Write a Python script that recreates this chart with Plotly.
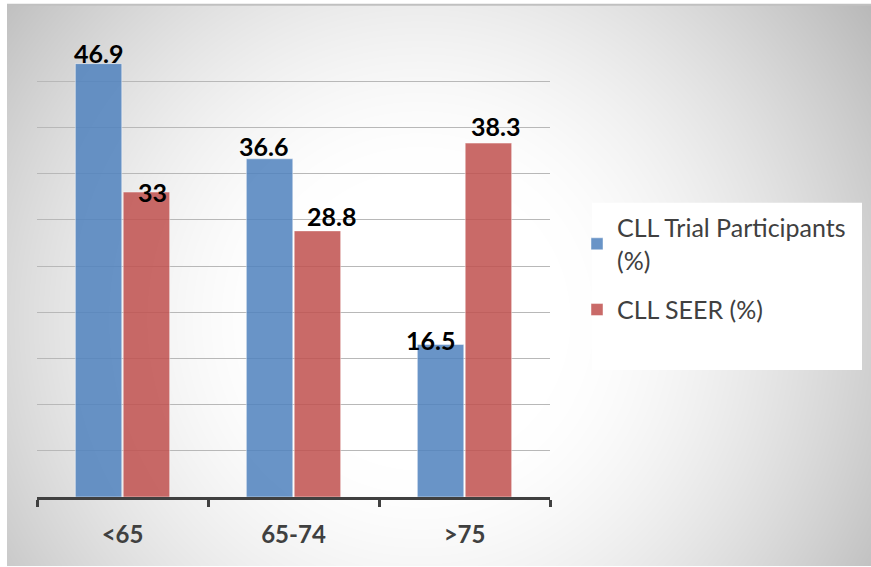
import base64
import struct
import zlib

import numpy as np
import plotly.graph_objects as go

# ---- data ----
categories = ["<65", "65-74", ">75"]
trial_pct = [46.9, 36.6, 16.5]
seer_pct = [33, 28.8, 38.3]
series_names = ["CLL Trial Participants<br>(%)", "CLL SEER (%)"]

# ---- style: data-label nudges (px) as placed in the original chart ----
label_dx = {"trial": [0, -6, -10], "seer": [6, 14, 7]}
label_dy = {"trial": [1, 3, -5], "seer": [-10, 5, 7]}

# ---- geometry (pixels, page coords; body margin removed) ----
W, H = 871, 567
PL, PR, PT, PB = 37, 550, 35.3, 497
BARGAP, BARGROUPGAP = 0.44, 0.03


def px2x(px):
    return (px - PL) / (PR - PL)


def py2y(py):
    return (PB - py) / (PB - PT)


# ---- radial gradient background as PNG ----
def gradient_png(w, h, cx, cy):
    yy, xx = np.mgrid[0:h, 0:w]
    d = np.sqrt((xx - cx) ** 2 + (yy - cy) ** 2)
    t = np.clip((d - 150) / 360.0, 0, 1.2)
    v = np.clip(255 - 60 * t ** 1.5, 0, 255).astype(np.uint8)
    raw = b"".join(b"\x00" + v[r].tobytes() for r in range(h))

    def chunk(tag, data):
        c = struct.pack(">I", len(data)) + tag + data
        return c + struct.pack(">I", zlib.crc32(tag + data) & 0xFFFFFFFF)

    png = b"\x89PNG\r\n\x1a\n"
    png += chunk(b"IHDR", struct.pack(">IIBBBBB", w, h, 8, 0, 0, 0, 0))
    png += chunk(b"IDAT", zlib.compress(raw, 9))
    png += chunk(b"IEND", b"")
    return "data:image/png;base64," + base64.b64encode(png).decode()


BG_X0, BG_X1, BG_Y0, BG_Y1 = 7, 871, 5, 566
bg_src = gradient_png(BG_X1 - BG_X0, BG_Y1 - BG_Y0, 420 - BG_X0, 320 - BG_Y0)

FONT = "Lato, 'Open Sans', sans-serif"

fig = go.Figure()
fig.add_trace(go.Bar(
    x=categories, y=trial_pct, name=series_names[0],
    marker=dict(color="rgba(79,129,189,0.85)",
                line=dict(color="rgba(255,255,255,0.45)", width=1)),
    legendgroup="a",
))
fig.add_trace(go.Bar(
    x=categories, y=seer_pct, name=series_names[1],
    marker=dict(color="rgba(192,80,77,0.85)",
                line=dict(color="rgba(255,255,255,0.45)", width=1)),
    legendgroup="b",
))

# data labels anchored to the bars through the axes
cat_px = (PR - PL) / len(categories)
half_slot = cat_px * (1 - BARGAP) / 4
annotations = []
for key, vals, sign in (("trial", trial_pct, -1), ("seer", seer_pct, 1)):
    for i, cat in enumerate(categories):
        annotations.append(dict(
            x=cat, y=vals[i], xref="x", yref="y", text=str(vals[i]),
            showarrow=False, yanchor="bottom", xanchor="center",
            xshift=sign * half_slot + label_dx[key][i],
            yshift=label_dy[key][i] - 7,
            font=dict(family=FONT, size=25, color="black", weight="bold"),
        ))

fig.update_layout(
    width=W, height=H,
    margin=dict(l=PL, r=W - PR, t=PT, b=H - PB, pad=0),
    paper_bgcolor="white",
    plot_bgcolor="rgba(0,0,0,0)",
    barmode="group", bargap=BARGAP, bargroupgap=BARGROUPGAP,
    font=dict(family=FONT, color="#404040"),
    showlegend=True,
    legend=dict(
        x=px2x(577), y=py2y(205), xanchor="left", yanchor="top",
        bgcolor="rgba(0,0,0,0)", font=dict(family=FONT, size=25, color="#404040"),
        tracegroupgap=14, itemclick=False,
    ),
    xaxis=dict(
        type="category", tickson="boundaries", ticks="outside", ticklen=7,
        tickwidth=3, tickcolor="#404040", showline=True, linewidth=3,
        linecolor="#404040", showgrid=False,
        tickfont=dict(family=FONT, size=24, color="#404040", weight="bold"),
        ticklabelstandoff=14,
    ),
    yaxis=dict(
        range=[0, 50], dtick=5, showgrid=True, gridcolor="#b8b8b8",
        gridwidth=1.2, showticklabels=False, zeroline=False, showline=False,
        ticks="",
    ),
    annotations=annotations,
    images=[dict(
        source=bg_src, xref="paper", yref="paper",
        x=px2x(BG_X0), y=py2y(BG_Y0),
        sizex=px2x(BG_X1) - px2x(BG_X0), sizey=py2y(BG_Y0) - py2y(BG_Y1),
        xanchor="left", yanchor="top", sizing="stretch", layer="below",
    )],
    shapes=[
        dict(type="rect", xref="paper", yref="paper",
             x0=px2x(592), x1=px2x(862), y0=py2y(370), y1=py2y(203),
             fillcolor="white", line=dict(width=0), layer="above"),
        dict(type="line", xref="paper", yref="paper",
             x0=px2x(BG_X0), x1=px2x(BG_X1), y0=py2y(5), y1=py2y(5),
             line=dict(color="#c0c0c0", width=2)),
    ],
)

fig.write_html(
    "out.html",
    config={"displayModeBar": False},
    post_script="document.body.style.margin='0';document.body.style.overflow='hidden';",
)
